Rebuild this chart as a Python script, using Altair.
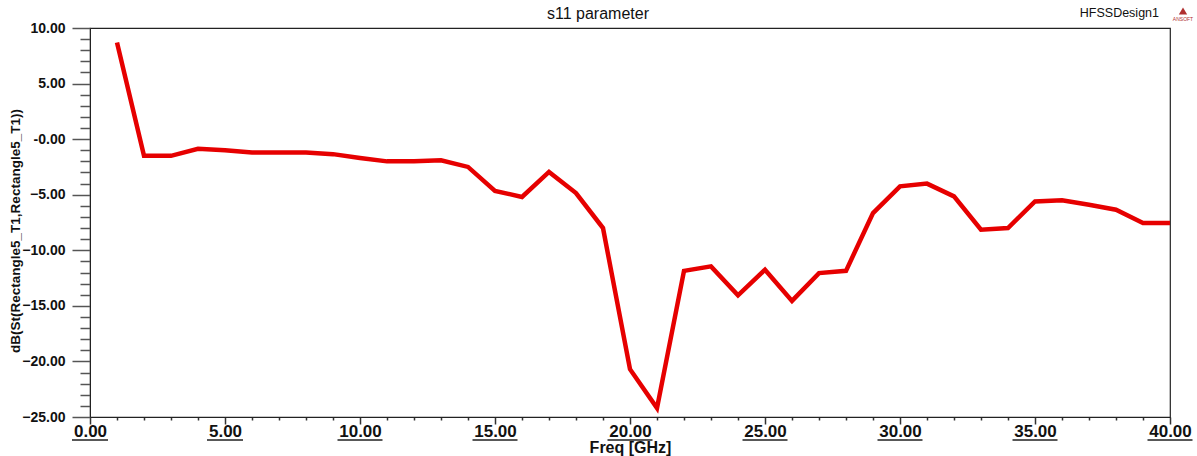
import altair as alt
import pandas as pd

# ---- data ----
freq_ghz = list(range(1, 41))
s11_db = [8.7, -1.5, -1.5, -0.86, -1.0, -1.2, -1.2, -1.2, -1.35, -1.7,
          -2.0, -2.0, -1.9, -2.5, -4.65, -5.2, -2.95, -4.85, -8.0, -20.7,
          -24.2, -11.85, -11.45, -14.05, -11.75, -14.55, -12.05, -11.85, -6.65, -4.25,
          -4.0, -5.15, -8.15, -8.0, -5.6, -5.5, -5.9, -6.35, -7.55, -7.55]
x_major_ticks = [0, 5, 10, 15, 20, 25, 30, 35, 40]
x_all_ticks = list(range(0, 41))
y_all_ticks = list(range(-25, 11))
chart_title = "s11 parameter"
design_name = "HFSSDesign1"

FONT = "Liberation Sans"
W, H = 1080, 389

df = pd.DataFrame({"freq": freq_ghz, "s11": s11_db})
df_major = pd.DataFrame({"freq": x_major_ticks})

xscale = alt.Scale(domain=[0, 40], nice=False, zero=False)
yscale = alt.Scale(domain=[-25, 10], nice=False, zero=False)

x_axis = alt.Axis(
    values=x_all_ticks,
    labelExpr="datum.value % 5 === 0 ? format(datum.value, '.2f') : ''",
    labelOverlap=False, labelFlush=False,
    labelFont=FONT, labelFontSize=17, labelFontWeight="bold", labelColor="#111",
    labelPadding=-1,
    tickSize={"condition": {"test": "datum.value % 5 === 0", "value": 7}, "value": 3},
    tickColor="#333", tickWidth=1.5,
    domainColor="#222", grid=False,
    title="Freq [GHz]", titleFont=FONT, titleFontSize=16, titleFontWeight="bold",
    titleColor="#111", titleBaseline="middle", titleY=30,
)
y_axis = alt.Axis(
    values=y_all_ticks,
    labelExpr="datum.value % 5 === 0 ? (datum.value === 0 ? '-0.00' : format(datum.value, '.2f')) : ''",
    labelOverlap=False,
    labelFont=FONT, labelFontSize=14, labelFontWeight="bold", labelColor="#111",
    labelPadding=7,
    tickSize={"condition": {"test": "datum.value % 5 === 0", "value": 18}, "value": 10},
    tickColor="#555", tickWidth=1.5,
    domainColor="#222", grid=False,
    title="dB(St(Rectangle5_T1,Rectangle5_T1))", titleFont=FONT, titleFontSize=13.5,
    titleFontWeight="bold", titleColor="#111",
    titleAngle=270, titleX=-75, titleY=H / 2 + 8, titleAlign="center", titleBaseline="middle",
)

line = alt.Chart(df).mark_line(color="#e60000", strokeWidth=4.5).encode(
    x=alt.X("freq:Q", scale=xscale, axis=x_axis),
    y=alt.Y("s11:Q", scale=yscale, axis=y_axis),
)

underline = alt.Chart(df_major).transform_calculate(
    w="length(format(datum.freq, '.2f')) * 9"
).mark_tick(orient="horizontal", thickness=2, color="#111").encode(
    x=alt.X("freq:Q", scale=xscale, axis=x_axis),
    y=alt.value(H + 23),
    size=alt.Size("w:Q", scale=None, legend=None),
)

title = alt.Chart(pd.DataFrame({"t": [chart_title]})).mark_text(
    align="center", baseline="alphabetic", font=FONT, fontSize=16, color="#111"
).encode(x=alt.value(W / 2 - 32), y=alt.value(-9), text="t:N")

design = alt.Chart(pd.DataFrame({"t": [design_name]})).mark_text(
    align="right", baseline="alphabetic", font=FONT, fontSize=12.5, color="#111"
).encode(x=alt.value(1069), y=alt.value(-11), text="t:N")

logo = alt.Chart(pd.DataFrame({"t": ["ANSOFT"]})).mark_point(
    shape="triangle-up", filled=True, size=70, color="#b03030", opacity=1
).encode(x=alt.value(1093), y=alt.value(-17))

logo_txt = alt.Chart(pd.DataFrame({"t": ["ANSOFT"]})).mark_text(
    align="center", baseline="middle", font=FONT, fontSize=5, color="#b03030"
).encode(x=alt.value(1093), y=alt.value(-9), text="t:N")

chart = alt.layer(line, underline, title, design, logo, logo_txt).properties(
    width=W, height=H,
    background="white",
    autosize=alt.AutoSizeParams(type="none"),
    padding={"left": 90, "top": 28, "right": 27, "bottom": 39},
).configure_view(stroke="#222", strokeWidth=1.2)

chart.save("out.html", embed_options={"renderer": "svg", "actions": False})
